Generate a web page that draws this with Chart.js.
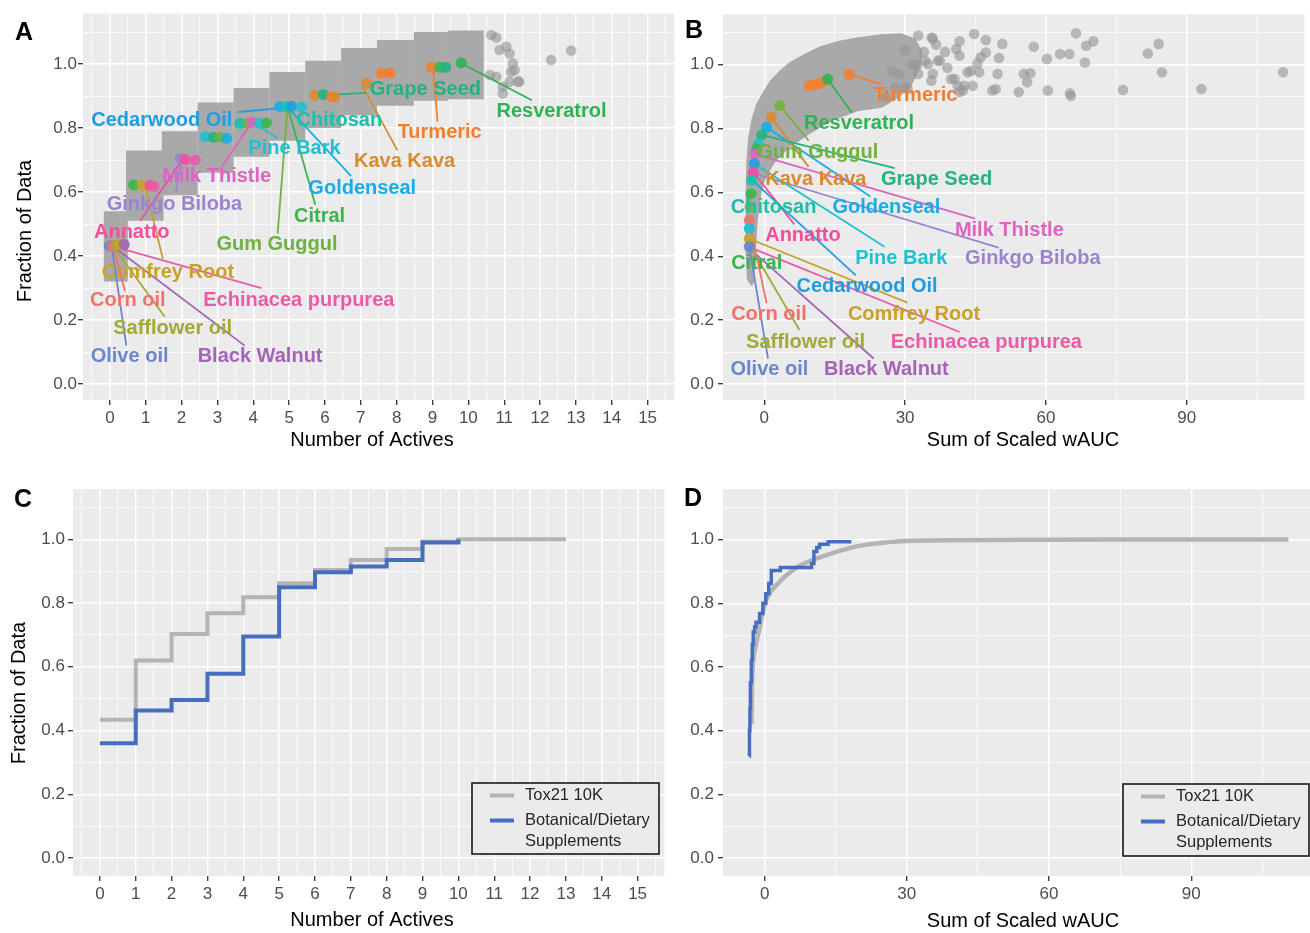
<!DOCTYPE html>
<html>
<head>
<meta charset="utf-8">
<title>Tox21 activity of botanicals</title>
<script src="https://cdn.jsdelivr.net/npm/chart.js@4.4.1/dist/chart.umd.min.js"></script>
<style>
  html, body { margin: 0; padding: 0; background: #ffffff; }
  #wrap { position: relative; width: 1310px; height: 933px; overflow: hidden; }
  canvas { position: absolute; }
</style>
</head>
<body>
<div id="wrap">
  <canvas id="chartA" width="680" height="460" style="left:0;top:0"></canvas>
  <canvas id="chartB" width="645" height="460" style="left:665px;top:0"></canvas>
  <canvas id="chartC" width="680" height="458" style="left:0;top:475px"></canvas>
  <canvas id="chartD" width="645" height="458" style="left:665px;top:475px"></canvas>
</div>
<script>
// ---- ticks
const fracMajor = [0, 0.2, 0.4, 0.6, 0.8, 1.0];
const fracMinor = [0.1, 0.3, 0.5, 0.7, 0.9, 1.1];
const activesMajor = [0, 1, 2, 3, 4, 5, 6, 7, 8, 9, 10, 11, 12, 13, 14, 15];
const activesMinor = [-0.5, 0.5, 1.5, 2.5, 3.5, 4.5, 5.5, 6.5, 7.5, 8.5, 9.5, 10.5, 11.5, 12.5, 13.5, 14.5, 15.5];
const waucMajor = [0, 30, 60, 90];
const waucMinor = [15, 45, 75, 105];

// ---- labelled botanicals (same order in A and B)
const labelNames = ['Resveratrol', 'Turmeric', 'Grape Seed', 'Kava Kava', 'Chitosan', 'Cedarwood Oil', 'Pine Bark',
  'Milk Thistle', 'Goldenseal', 'Citral', 'Gum Guggul', 'Ginkgo Biloba', 'Annatto', 'Comfrey Root', 'Corn oil',
  'Echinacea purpurea', 'Safflower oil', 'Olive oil', 'Black Walnut'];

// ---- panel A: Tox21 jittered cloud, outer extent for each number of actives
const aBlockX0 = [-0.17, 0.45, 1.45, 2.45, 3.45, 4.45, 5.45, 6.45, 7.45, 8.48, 9.43];
const aBlockX1 = [0.5, 1.5, 2.45, 3.45, 4.45, 5.45, 6.45, 7.45, 8.48, 9.43, 10.43];
const aBlockY0 = [0.32, 0.51, 0.59, 0.66, 0.71, 0.76, 0.80, 0.84, 0.87, 0.885, 0.89];
const aBlockY1 = [0.54, 0.73, 0.79, 0.88, 0.925, 0.975, 1.01, 1.05, 1.075, 1.10, 1.105];
const aSparseX = [10.64, 10.78, 11.06, 10.87, 11.15, 11.24, 11.29, 11.38, 11.15, 10.96, 10.78, 10.6, 10.96, 11.42, 11.19, 12.31, 12.87];
const aSparseY = [1.091, 1.083, 1.054, 1.044, 1.033, 1.002, 0.981, 0.945, 0.945, 0.929, 0.96, 0.966, 0.908, 0.945, 0.976, 1.0125, 1.042];

const aPtName = ['Olive oil', 'Corn oil', 'Safflower oil', 'Comfrey Root', 'Black Walnut',
  'Citral', 'Comfrey Root', 'Annatto', 'Echinacea purpurea',
  'Ginkgo Biloba', 'Annatto', 'Echinacea purpurea',
  'Pine Bark', 'Grape Seed', 'Gum Guggul', 'Goldenseal',
  'Chitosan', 'Gum Guggul', 'Milk Thistle', 'Pine Bark', 'Citral',
  'Goldenseal', 'Chitosan', 'Cedarwood Oil', 'Pine Bark',
  'Kava Kava', 'Grape Seed', 'Turmeric', 'Kava Kava',
  'Kava Kava', 'Turmeric', 'Turmeric',
  'Turmeric', 'Citral', 'Grape Seed', 'Resveratrol'];
const aPtX = [-0.02, 0.08, 0.18, 0.28, 0.4, 0.66, 0.9, 1.12, 1.23, 1.96, 2.1, 2.38, 2.66, 2.89, 3.08, 3.26,
  3.62, 3.86, 3.95, 4.18, 4.37, 4.74, 4.93, 5.07, 5.34, 5.72, 5.95, 6.18, 6.27, 7.16, 7.57, 7.81, 8.97, 9.2, 9.37, 9.8];
const aPtY = [0.432, 0.432, 0.434, 0.435, 0.436, 0.622, 0.621, 0.621, 0.618, 0.705, 0.702, 0.70, 0.773, 0.771, 0.771, 0.768,
  0.815, 0.815, 0.818, 0.815, 0.816, 0.867, 0.867, 0.868, 0.866, 0.903, 0.905, 0.898, 0.897, 0.94, 0.971, 0.972, 0.99, 0.99, 0.99, 1.004];

const aLabelX = [12.32, 9.20, 8.80, 8.22, 6.40, 1.45, 5.15, 2.98, 7.04, 5.85, 4.66, 1.80, 0.61, 1.62, 0.50, 5.27, 1.75, 0.55, 4.19];
const aLabelY = [0.853, 0.787, 0.919, 0.697, 0.825, 0.825, 0.737, 0.65, 0.61, 0.523, 0.436, 0.562, 0.475, 0.349, 0.261, 0.261, 0.172, 0.087, 0.087];
const aSegX0 = [9.84, 9.02, 5.97, 7.03, null, 5.02, 4.09, 3.97, 5.0, 4.98, 4.95, 2.0, 2.02, 0.98, 0.09, 0.09, 0.09, 0.05, 0.09];
const aSegY0 = [1.0, 0.99, 0.903, 0.934, null, 0.865, 0.81, 0.82, 0.86, 0.858, 0.858, 0.70, 0.70, 0.62, 0.43, 0.43, 0.43, 0.43, 0.43];
const aSegX1 = [11.77, 9.14, 7.14, 8.02, null, 3.56, 4.68, 3.15, 6.73, 5.73, 4.68, 1.84, 0.84, 1.48, 0.42, 4.23, 1.53, 0.46, 3.76];
const aSegY1 = [0.887, 0.82, 0.91, 0.73, null, 0.85, 0.768, 0.684, 0.65, 0.56, 0.47, 0.60, 0.51, 0.39, 0.29, 0.30, 0.21, 0.12, 0.12];

// ---- panel B: outline of the dense Tox21 cloud, then the sparse points
const bCloudX = [-2.7, -3.5, -3.75, -3.75, -3.6, -3.2, -2.5, -1.5, 0, 1.5, 3.5, 5.5, 8.5, 12, 16, 20, 25, 29, 32, 33.5,
  33, 31, 28, 25, 20, 14, 9, 5, 2.3, 0.2, -0.8, -1.6, -2.0, -2.3];
const bCloudY = [0.31, 0.33, 0.42, 0.60, 0.70, 0.77, 0.83, 0.875, 0.915, 0.95, 0.98, 1.005, 1.03, 1.055, 1.072, 1.083, 1.092, 1.095, 1.08, 1.04,
  0.99, 0.93, 0.895, 0.868, 0.858, 0.825, 0.78, 0.74, 0.70, 0.65, 0.60, 0.51, 0.42, 0.32];
const bSparseX = [32.8, 35.9, 36.6, 41.6, 40.9, 41.6, 44.7, 47.2, 50.7, 47.2, 50.0, 45.4, 43.3, 45.8, 49.7, 40.5, 41.2, 42.3, 44.4, 48.6,
  49.3, 57.4, 60.2, 63.0, 65.0, 66.4, 68.6, 70.1, 68.3, 55.3, 56.7, 56.0, 54.2, 60.4, 65.1, 65.3, 76.4, 81.7, 84.0, 84.7,
  93.1, 110.5, 37.0, 34.9, 35.9, 35.7, 37.4, 44.0, 46.1, 39.8, 42.6, 41.6, 30.0, 31.4, 34.2, 32.8, 35.6, 27.9, 25.8, 30.0,
  27.2, 38.5, 39.0, 28.7, 30.5, 34.0, 32.6];
const bSparseY = [1.091, 1.080, 1.0625, 1.073, 1.049, 1.028, 1.096, 1.077, 1.065, 1.038, 1.021, 1.004, 0.976, 0.976, 0.971, 0.955, 0.934, 0.919, 0.934, 0.919,
  0.924, 1.056, 1.018, 1.033, 1.033, 1.098, 1.059, 1.073, 1.007, 0.971, 0.973, 0.945, 0.914, 0.919, 0.910, 0.902, 0.921, 1.035, 1.065, 0.976,
  0.924, 0.976, 1.0125, 1.002, 0.971, 1.085, 1.0125, 0.98, 1.023, 0.955, 0.934, 0.914, 1.044, 1.0, 1.0125, 0.971, 0.95, 0.929, 0.898, 0.929,
  0.981, 1.04, 0.99, 0.97, 0.924, 1.04, 1.0];

const bPtName = ['Turmeric', 'Turmeric', 'Turmeric', 'Turmeric', 'Resveratrol', 'Turmeric', 'Gum Guggul', 'Kava Kava',
  'Goldenseal', 'Grape Seed', 'Pine Bark', 'Citral', 'Milk Thistle', 'Cedarwood Oil', 'Ginkgo Biloba', 'Annatto',
  'Chitosan', 'Citral', 'Gum Guggul', 'Corn oil', 'Pine Bark', 'Comfrey Root', 'Olive oil'];
const bPtX = [9.6, 10.6, 11.6, 12.5, 13.5, 18.1, 3.3, 1.56, 0.5, -0.55, -1.25, -1.6, -1.96, -2.1, -2.35, -2.3,
  -2.66, -2.8, -3.0, -3.2, -3.2, -3.2, -3.2];
const bPtY = [0.934, 0.937, 0.941, 0.945, 0.955, 0.97, 0.872, 0.835, 0.804, 0.78, 0.752, 0.736, 0.72, 0.69, 0.66, 0.663,
  0.6375, 0.596, 0.554, 0.5125, 0.487, 0.455, 0.43];

const bLabelX = [20.2, 32.2, 36.7, 11.0, 2.0, 21.9, 29.2, 52.2, 26.0, -1.6, 11.4, 57.2, 8.25, 31.9, 1.0, 47.3, 8.8, 1.1, 26.0];
const bLabelY = [0.817, 0.903, 0.64, 0.64, 0.554, 0.306, 0.393, 0.481, 0.554, 0.377, 0.726, 0.393, 0.466, 0.219, 0.219, 0.129, 0.129, 0.044, 0.044];
const bSegX0 = [13.5, 18.1, -0.55, 1.56, null, -2.66, -2.1, -1.96, 0.5, null, 3.3, -2.35, -2.3, -3.2, -3.2, -2.4, -2.9, -3.2, -2.8];
const bSegY0 = [0.955, 0.97, 0.78, 0.835, null, 0.64, 0.69, 0.72, 0.804, null, 0.872, 0.66, 0.663, 0.455, 0.5125, 0.424, 0.43, 0.43, 0.42];
const bSegX1 = [18.65, 24.8, 27.8, 9.45, null, 19.5, 25.6, 44.9, 22.6, null, 9.45, 49.9, 6.4, 30.5, 0.5, 41.6, 7.5, 0.8, 23.3];
const bSegY1 = [0.85, 0.94, 0.676, 0.68, null, 0.34, 0.43, 0.518, 0.5875, null, 0.7625, 0.427, 0.50, 0.255, 0.253, 0.163, 0.169, 0.08, 0.08];

// ---- panel C: cumulative fraction vs number of actives
const cTox21X = [0, 1, 2, 3, 4, 5, 6, 7, 8, 9, 10, 11, 12, 13];
const cTox21Y = [0.434, 0.62, 0.703, 0.768, 0.818, 0.862, 0.904, 0.935, 0.97, 0.993, 1.0, 1.0, 1.0, 1.0];
const cBotanX = [0, 1, 2, 3, 4, 5, 6, 7, 8, 9, 10];
const cBotanY = [0.36, 0.463, 0.496, 0.578, 0.695, 0.85, 0.897, 0.915, 0.935, 0.99, 1.0];

// ---- panel D: cumulative fraction vs sum of scaled wAUC
const dTox21X = [-2.75, -2.7, -2.6, -2.4, -2.1, -1.7, -1.1, -0.5, 0, 1, 2.5, 4, 6, 8, 10, 13, 16, 20, 25, 30, 40, 55, 75, 110.5];
const dTox21Y = [0.42, 0.50, 0.57, 0.62, 0.65, 0.68, 0.72, 0.765, 0.795, 0.83, 0.857, 0.88, 0.904, 0.922, 0.935, 0.951, 0.965, 0.98, 0.99, 0.995, 0.998, 0.999, 1.0, 1.0];
const dBotanX = [-3.25, -3.2, -3.1, -3.0, -2.8, -2.6, -2.4, -2.1, -1.8, -1.06, -0.36, 0.25, 0.87, 1.4, 3.3, 9.9, 10.4, 11.0, 11.6, 13.4, 18.3];
const dBotanY = [0.32, 0.40, 0.47, 0.55, 0.62, 0.67, 0.71, 0.725, 0.74, 0.768, 0.80, 0.83, 0.862, 0.903, 0.912, 0.925, 0.962, 0.975, 0.985, 0.993, 0.993];

// ---- styles
const FONT = '"Liberation Sans", Arial, Helvetica, sans-serif';
Chart.defaults.font.family = FONT;
const labelColors = {
  'Annatto': '#f0509a', 'Black Walnut': '#a464b8', 'Cedarwood Oil': '#1f9de0', 'Chitosan': '#1cbfa9',
  'Citral': '#3bb54a', 'Comfrey Root': '#c9a02c', 'Corn oil': '#f3716b', 'Echinacea purpurea': '#ea5ba7',
  'Ginkgo Biloba': '#9a84d1', 'Goldenseal': '#14aee7', 'Grape Seed': '#22b37e', 'Gum Guggul': '#6fb23f',
  'Kava Kava': '#d88b2c', 'Milk Thistle': '#de63c2', 'Olive oil': '#6b86cd', 'Pine Bark': '#1fc0cf',
  'Resveratrol': '#2eb353', 'Safflower oil': '#a2a934', 'Turmeric': '#f27f2e'
};
const CLOUD = '#a9a9a9';
const SPARSE = 'rgba(150,150,150,0.62)';
const TOX_LINE = '#b4b4b4';
const BOT_LINE = '#466ebf';

const xy = (xs, ys) => xs.map((x, i) => ({ x: x, y: ys[i] }));

function axis(min, max, majors, minors, fmt, pad, size, isX) {
  return {
    type: 'linear', min: min, max: max,
    afterBuildTicks: s => {
      s.ticks = majors.concat(minors).filter(v => v >= min && v <= max)
        .sort((a, b) => a - b).map(v => ({ value: v, major: majors.includes(v) }));
    },
    afterFit: s => { if (isX) s.height = size; else s.width = size; },
    ticks: {
      autoSkip: false, maxRotation: 0, minRotation: 0, padding: pad,
      color: '#4d4d4d', font: { size: 17 },
      callback: (v, i, t) => t[i].major ? fmt(v) : ''
    },
    grid: {
      color: '#ffffff',
      lineWidth: c => (c.tick && c.tick.major) ? 1.4 : 0.7,
      tickLength: 5,
      tickColor: c => (c.tick && c.tick.major) ? '#333333' : 'rgba(0,0,0,0)',
      tickWidth: 1.3
    },
    border: { display: false }
  };
}
const fmtFrac = v => v.toFixed(1);
const fmtInt = v => String(v);

// background panel, repelled labels, axis titles, legend box
function makeDecor(cfg) {
  return {
    id: 'decor',
    beforeDraw(chart) {
      const { ctx, chartArea: a } = chart;
      ctx.save();
      ctx.fillStyle = '#ebebeb';
      ctx.fillRect(a.left, a.top, a.right - a.left, a.bottom - a.top);
      ctx.restore();
    },
    afterDatasetsDraw(chart) {
      const { ctx, scales } = chart;
      ctx.save();
      if (cfg.labels) {
        const L = cfg.labels;
        ctx.font = 'bold 20px ' + FONT;
        ctx.textAlign = 'center';
        ctx.textBaseline = 'middle';
        L.names.forEach((n, i) => {
          ctx.fillStyle = labelColors[n];
          ctx.fillText(n, scales.x.getPixelForValue(L.x[i]), scales.y.getPixelForValue(L.y[i]));
        });
      }
      if (cfg.legend) {
        const g = cfg.legend, a = chart.chartArea;
        const left = a.right - g.right - g.w, top = a.bottom - g.bottom - g.h;
        ctx.fillStyle = '#ebebeb';
        ctx.fillRect(left, top, g.w, g.h);
        ctx.strokeStyle = '#1a1a1a';
        ctx.lineWidth = 1.6;
        ctx.strokeRect(left, top, g.w, g.h);
        ctx.font = '16.5px ' + FONT;
        ctx.textAlign = 'left';
        ctx.textBaseline = 'middle';
        let yy = top + 12.5;
        g.items.forEach(it => {
          ctx.strokeStyle = it.color;
          ctx.lineWidth = 4;
          ctx.beginPath(); ctx.moveTo(left + 18, yy); ctx.lineTo(left + 42, yy); ctx.stroke();
          ctx.fillStyle = '#262626';
          it.text.forEach((t, k) => ctx.fillText(t, left + 53, yy + k * 21));
          yy += 25;
        });
      }
      ctx.restore();
    },
    afterDraw(chart) {
      const ctx = chart.ctx;
      ctx.save();
      ctx.fillStyle = '#000000';
      ctx.textAlign = 'center';
      ctx.textBaseline = 'middle';
      ctx.font = '20px ' + FONT;
      cfg.titles.forEach(t => {
        ctx.save();
        ctx.translate(t.x, t.y);
        ctx.rotate(t.rot || 0);
        ctx.fillText(t.text, 0, 0);
        ctx.restore();
      });
      ctx.font = 'bold 25px ' + FONT;
      ctx.fillText(cfg.letter.text, cfg.letter.x, cfg.letter.y);
      ctx.restore();
    }
  };
}

function pointSet(names, xs, ys) {
  return {
    data: xy(xs, ys), showLine: false, pointRadius: 5.5, pointBorderWidth: 0,
    pointBackgroundColor: names.map(n => labelColors[n] + 'e6'), order: 0
  };
}
function segmentSets(x0, y0, x1, y1) {
  const out = [];
  labelNames.forEach((n, i) => {
    if (x0[i] === null) return;
    out.push({
      data: [{ x: x0[i], y: y0[i] }, { x: x1[i], y: y1[i] }],
      borderColor: labelColors[n], borderWidth: 1.8, pointRadius: 0, order: 1
    });
  });
  return out;
}
function sparseSet(xs, ys) {
  return { data: xy(xs, ys), showLine: false, pointRadius: 5.3, pointBorderWidth: 0, pointBackgroundColor: SPARSE, order: 2 };
}

const baseOptions = (pad, scales) => ({
  responsive: false, animation: false, devicePixelRatio: 1, events: [],
  layout: { padding: pad },
  plugins: { legend: { display: false }, tooltip: { enabled: false } },
  scales: scales
});

// ---------- A : each block is a vertical stroke as wide as its x extent
const aBlocks = aBlockX0.map((x0, i) => {
  const xc = (x0 + aBlockX1[i]) / 2;
  return {
    data: [{ x: xc, y: aBlockY0[i] }, { x: xc, y: aBlockY1[i] }],
    borderColor: CLOUD, borderCapStyle: 'butt', pointRadius: 0, order: 3,
    borderWidth: c => {
      const s = c.chart.scales.x;
      return s ? s.getPixelForValue(aBlockX1[i]) - s.getPixelForValue(x0) : 30;
    }
  };
});
new Chart(document.getElementById('chartA'), {
  type: 'line',
  data: { datasets: [pointSet(aPtName, aPtX, aPtY)].concat(segmentSets(aSegX0, aSegY0, aSegX1, aSegY1),
    [sparseSet(aSparseX, aSparseY)], aBlocks) },
  options: baseOptions({ top: 13.5, right: 5, left: 0, bottom: 0 }, {
    x: axis(-0.75, 15.75, activesMajor, activesMinor, fmtInt, 3, 60, true),
    y: axis(-0.05, 1.158, fracMajor, fracMinor, fmtFrac, 1, 83, false)
  }),
  plugins: [makeDecor({
    labels: { names: labelNames, x: aLabelX, y: aLabelY },
    titles: [{ text: 'Number of Actives', x: 372, y: 440 }, { text: 'Fraction of Data', x: 25, y: 231, rot: -Math.PI / 2 }],
    letter: { text: 'A', x: 24, y: 33 }
  })]
});

// ---------- B
new Chart(document.getElementById('chartB'), {
  type: 'line',
  data: { datasets: [pointSet(bPtName, bPtX, bPtY)].concat(segmentSets(bSegX0, bSegY0, bSegX1, bSegY1),
    [sparseSet(bSparseX, bSparseY), {
      data: xy(bCloudX.concat([bCloudX[0]]), bCloudY.concat([bCloudY[0]])),
      fill: 'shape', backgroundColor: CLOUD, borderColor: CLOUD, borderWidth: 2,
      borderJoinStyle: 'round', pointRadius: 0, order: 3
    }]) },
  options: baseOptions({ top: 13.5, right: 0, left: 0, bottom: 0 }, {
    x: axis(-8.78, 115.06, waucMajor, waucMinor, fmtInt, 3, 60, true),
    y: axis(-0.05, 1.158, fracMajor, fracMinor, fmtFrac, 4, 58, false)
  }),
  plugins: [makeDecor({
    labels: { names: labelNames, x: bLabelX, y: bLabelY },
    titles: [{ text: 'Sum of Scaled wAUC', x: 358, y: 440 }],
    letter: { text: 'B', x: 29, y: 31 }
  })]
});

const legendItems = [{ color: TOX_LINE, text: ['Tox21 10K'] }, { color: BOT_LINE, text: ['Botanical/Dietary', 'Supplements'] }];

// ---------- C
new Chart(document.getElementById('chartC'), {
  type: 'line',
  data: { datasets: [
    { data: xy(cBotanX, cBotanY), stepped: 'before', borderColor: BOT_LINE, borderWidth: 4, pointRadius: 0, order: 0 },
    { data: xy(cTox21X, cTox21Y), stepped: 'before', borderColor: TOX_LINE, borderWidth: 4, pointRadius: 0, order: 1 }
  ] },
  options: baseOptions({ top: 14, right: 15.5, left: 0, bottom: 0 }, {
    x: axis(-0.75, 15.75, activesMajor, activesMinor, fmtInt, 3, 57, true),
    y: axis(-0.0565, 1.158, fracMajor, fracMinor, fmtFrac, 3, 73, false)
  }),
  plugins: [makeDecor({
    legend: { right: 5.5, bottom: 22, w: 187, h: 71, items: legendItems },
    titles: [{ text: 'Number of Actives', x: 372, y: 445 }, { text: 'Fraction of Data', x: 19, y: 218, rot: -Math.PI / 2 }],
    letter: { text: 'C', x: 23, y: 25 }
  })]
});

// ---------- D
new Chart(document.getElementById('chartD'), {
  type: 'line',
  data: { datasets: [
    { data: xy(dBotanX, dBotanY), stepped: 'before', borderColor: BOT_LINE, borderWidth: 3.5, pointRadius: 0, order: 0 },
    { data: xy(dTox21X, dTox21Y), cubicInterpolationMode: 'monotone', borderColor: TOX_LINE, borderWidth: 4.5, pointRadius: 0, order: 1 }
  ] },
  options: baseOptions({ top: 14, right: 0, left: 0, bottom: 0 }, {
    x: axis(-8.78, 115.06, waucMajor, waucMinor, fmtInt, 3, 57, true),
    y: axis(-0.0565, 1.158, fracMajor, fracMinor, fmtFrac, 4, 58, false)
  }),
  plugins: [makeDecor({
    legend: { right: 1, bottom: 20, w: 186, h: 72, items: legendItems },
    titles: [{ text: 'Sum of Scaled wAUC', x: 358, y: 446.5 }],
    letter: { text: 'D', x: 28, y: 24.5 }
  })]
});
</script>
</body>
</html>
